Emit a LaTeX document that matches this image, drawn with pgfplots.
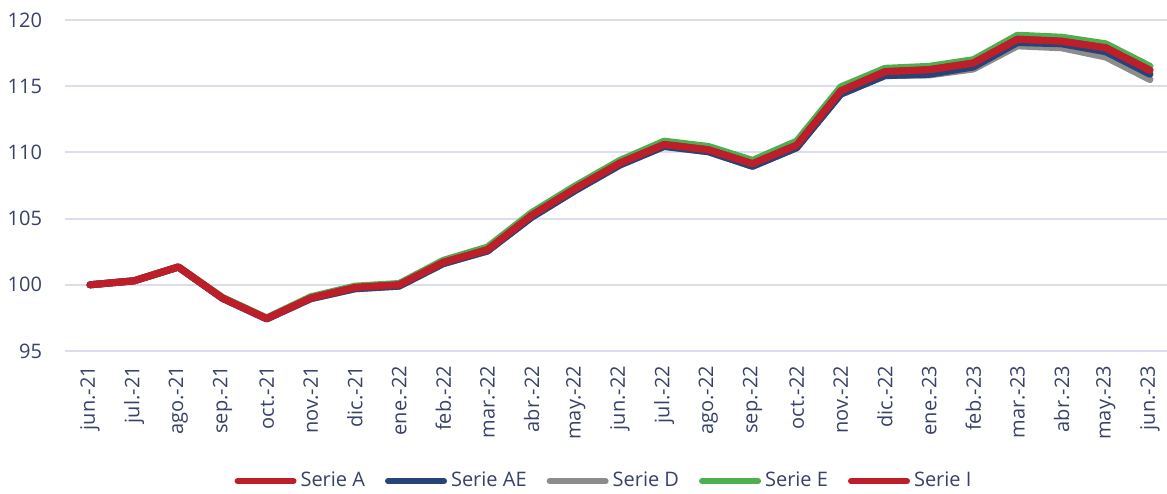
\documentclass[border=0pt]{standalone}
\usepackage{pgfplots}
\usepackage{pgfplotstable}
\pgfplotsset{compat=1.18}
\usepackage{fontspec}
\setmainfont{Open Sans}
\definecolor{txt}{RGB}{55,65,105}
\definecolor{gridc}{RGB}{217,221,238}
\definecolor{sred}{RGB}{190,30,42}
\definecolor{sblue}{RGB}{38,68,120}
\definecolor{sgray}{RGB}{140,140,140}
\definecolor{sgreen}{RGB}{76,175,80}

\pgfplotstableread{
x   I       A       AE      D       E
0   100.00  100.00  100.00  100.00  100.00
1   100.30  100.30  100.30  100.30  100.32
2   101.35  101.35  101.33  101.33  101.37
3   99.00   99.00   98.97   98.97   99.05
4   97.45   97.45   97.42   97.42   97.50
5   99.00   99.00   98.95   98.95   99.10
6   99.80   99.80   99.70   99.70   99.90
7   100.00  100.00  99.90   99.90   100.10
8   101.70  101.70  101.60  101.60  101.85
9   102.65  102.65  102.55  102.55  102.85
10  105.25  105.25  105.10  105.10  105.45
11  107.30  107.30  107.15  107.15  107.50
12  109.20  109.20  109.05  109.05  109.40
13  110.60  110.60  110.45  110.45  110.85
14  110.20  110.20  110.05  110.05  110.45
15  109.15  109.15  108.95  108.95  109.40
16  110.55  110.55  110.35  110.35  110.85
17  114.65  114.65  114.40  114.40  114.95
18  116.10  116.10  115.80  115.80  116.35
19  116.25  116.25  115.90  115.85  116.50
20  116.75  116.75  116.45  116.30  117.00
21  118.55  118.55  118.30  118.05  118.85
22  118.40  118.40  118.20  117.90  118.70
23  117.90  117.90  117.60  117.20  118.20
24  116.20  116.20  115.90  115.50  116.50
}\data

\begin{document}
\begin{tikzpicture}
\path[use as bounding box] (-32.5pt,-71pt) rectangle (551pt,175.5pt);
\begin{axis}[
  at={(0,0)}, anchor=south west,
  scale only axis, width=551pt, height=165.5pt,
  xmin=-0.566, xmax=24.385, ymin=95, ymax=120,
  ytick={95,100,...,120},
  xtick={0,...,24},
  xticklabels={jun.-21,jul.-21,ago.-21,sep.-21,oct.-21,nov.-21,dic.-21,ene.-22,feb.-22,mar.-22,abr.-22,may.-22,jun.-22,jul.-22,ago.-22,sep.-22,oct.-22,nov.-22,dic.-22,ene.-23,feb.-23,mar.-23,abr.-23,may.-23,jun.-23},
  axis line style={draw=none},
  major tick length=0pt,
  ymajorgrids, grid style={draw=gridc, line width=1pt},
  /pgf/number format/assume math mode=true,
  tick label style={font=\fontsize{10}{12}\selectfont, text=txt},
  xticklabel style={yshift=-4pt, rotate=90, anchor=east},
  yticklabel style={anchor=east, xshift=-8pt},
  legend style={at={(0.49,-0.393)}, anchor=center, draw=none, fill=none,
    legend columns=-1, font=\fontsize{10}{12}\selectfont, text=txt,
    /tikz/every even column/.append style={column sep=8pt}},
  legend image code/.code={\draw[#1, line width=3pt, line cap=round] (0pt,0pt) -- (28pt,0pt);},
  every axis plot/.append style={line width=3.5pt, line join=round, line cap=round},
]
\addlegendimage{sred}\addlegendentry{Serie A}
\addlegendimage{sblue}\addlegendentry{Serie AE}
\addlegendimage{sgray}\addlegendentry{Serie D}
\addlegendimage{sgreen}\addlegendentry{Serie E}
\addlegendimage{sred}\addlegendentry{Serie I}
\addplot[sgray, forget plot] table[x=x, y=D] {\data};
\addplot[sgreen, forget plot] table[x=x, y=E] {\data};
\addplot[sblue, forget plot] table[x=x, y=AE] {\data};
\addplot[sred, forget plot] table[x=x, y=A] {\data};
\addplot[sred, forget plot] table[x=x, y=I] {\data};
\end{axis}
\end{tikzpicture}
\end{document}
